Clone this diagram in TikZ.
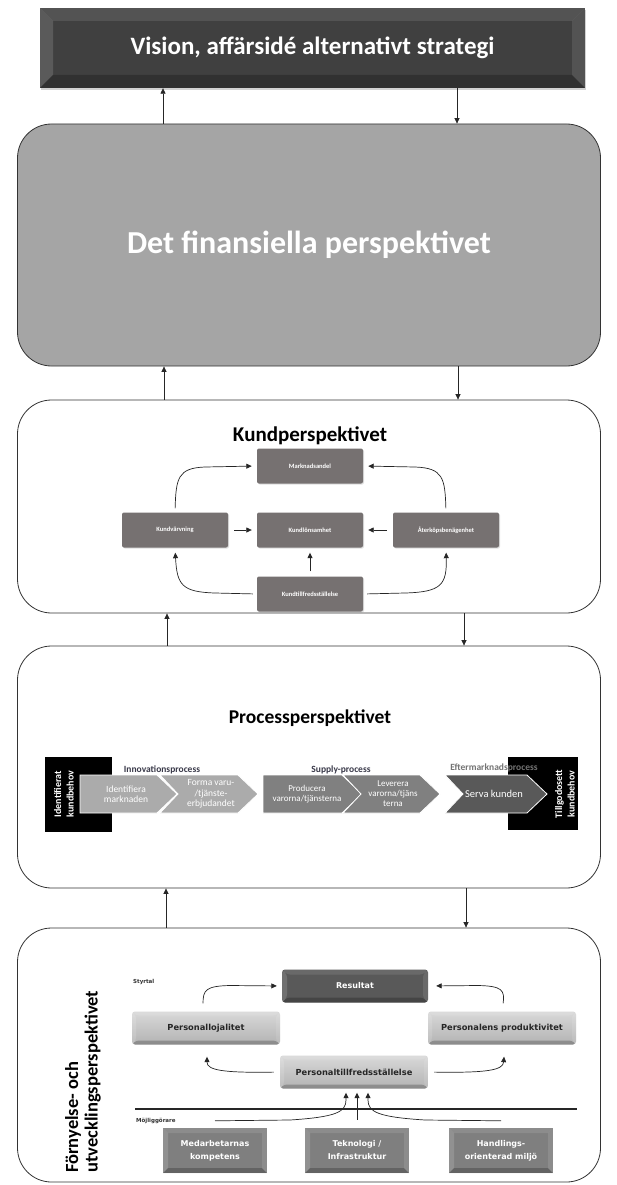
\documentclass[tikz,border=0pt]{standalone}
\usepackage{fontspec}
\setmainfont{Carlito}
\newfontfamily\widefont{DejaVu Sans}
\usetikzlibrary{arrows.meta,calc,shadows}
\definecolor{visgray}{HTML}{404040}
\definecolor{fingray}{HTML}{A5A5A5}
\definecolor{kgray}{HTML}{767171}
\definecolor{chevA}{HTML}{ABABAB}
\definecolor{chevB}{HTML}{808080}
\definecolor{chevC}{HTML}{595959}
\definecolor{resgray}{HTML}{595959}
\definecolor{enagray}{HTML}{7F7F7F}
\definecolor{lblgray}{HTML}{3A3A4A}
\tikzset{
 bevel/.style={path picture={
  \fill[white,opacity=.10] (path picture bounding box.north west) -- (path picture bounding box.north east) -- ([shift={(-#1,-#1)}]path picture bounding box.north east) -- ([shift={(#1,-#1)}]path picture bounding box.north west) -- cycle;
  \fill[white,opacity=.14] (path picture bounding box.north west) -- ([shift={(#1,-#1)}]path picture bounding box.north west) -- ([shift={(#1,#1)}]path picture bounding box.south west) -- (path picture bounding box.south west) -- cycle;
  \fill[black,opacity=.22] (path picture bounding box.south west) -- (path picture bounding box.south east) -- ([shift={(-#1,#1)}]path picture bounding box.south east) -- ([shift={(#1,#1)}]path picture bounding box.south west) -- cycle;
  \fill[white,opacity=.10] (path picture bounding box.north east) -- (path picture bounding box.south east) -- ([shift={(-#1,#1)}]path picture bounding box.south east) -- ([shift={(-#1,-#1)}]path picture bounding box.north east) -- cycle;
 }},
 persp/.style={draw=black!80, line width=0.8pt, rounded corners=34pt, minimum width=583pt, inner sep=0pt},
 arr/.style={-{Triangle[length=5.5pt,width=5pt]}, line width=0.7pt, black!85},
 knode/.style={fill=kgray, rounded corners=2pt, minimum width=106pt, minimum height=35pt, text=white, font=\bfseries\fontsize{6.5}{8}\selectfont, inner sep=1pt, drop shadow={opacity=.25, shadow xshift=1pt, shadow yshift=-1pt}},
 chevtext/.style={text=white, align=center, font=\fontsize{9.5}{10.5}\selectfont, inner sep=0pt},
 plabel/.style={text=lblgray, font=\bfseries\fontsize{9.5}{10}\selectfont, anchor=south, inner sep=0pt},
 lightbox/.style={top color=black!15, bottom color=black!30, bevel=4pt, rounded corners=3pt, minimum width=148pt, minimum height=33pt, inner sep=0pt, font=\widefont\bfseries\fontsize{8.3}{10}\selectfont, text=black!85},
 enabler/.style={fill=enagray, bevel=5pt, minimum width=104pt, minimum height=45pt, inner sep=0pt, align=center, text=white, font=\widefont\bfseries\fontsize{8}{13}\selectfont},
 tinylabel/.style={font=\widefont\bfseries\fontsize{5.5}{6}\selectfont, text=black!80, anchor=west, inner sep=0pt}
}
\begin{document}
\begin{tikzpicture}[x=1pt,y=-1pt]
\useasboundingbox (0,0) rectangle (616,1185);
\fill[white] (0,0) rectangle (616,1185);

% ---------- top box ----------
\node[fill=visgray, bevel=13pt, minimum width=545pt, minimum height=80pt, inner sep=0pt, text=white, font=\bfseries\fontsize{25}{28}\selectfont, drop shadow={opacity=.35, shadow xshift=1pt, shadow yshift=-2pt}] (vision) at (312.5,48) {Vision, affärsidé alternativt strategi};

% ---------- perspective boxes ----------
\node[persp, fill=fingray, minimum height=242pt, text=white, font=\bfseries\fontsize{32}{36}\selectfont] (fin) at (309,245) {Det finansiella perspektivet};
\node[persp, fill=white, minimum height=213pt] (kund) at (309,506.5) {};
\node[persp, fill=white, minimum height=242pt] (proc) at (309,767) {};
\node[persp, fill=white, minimum height=254pt] (forn) at (309,1055) {};

% ---------- connectors between boxes ----------
\coordinate (xa) at (163,0); \coordinate (xb) at (457,0);
\coordinate (xc) at (164,0); \coordinate (xd) at (458,0);
\coordinate (xe) at (167,0); \coordinate (xf) at (464,0);
\coordinate (xg) at (166,0); \coordinate (xh) at (466,0);
\draw[arr] (fin.north -| xa) -- (vision.south -| xa);
\draw[arr] (vision.south -| xb) -- (fin.north -| xb);
\draw[arr] (kund.north -| xc) -- (fin.south -| xc);
\draw[arr] (fin.south -| xd) -- (kund.north -| xd);
\draw[arr] (proc.north -| xe) -- (kund.south -| xe);
\draw[arr] (kund.south -| xf) -- (proc.north -| xf);
\draw[arr] (forn.north -| xg) -- (proc.south -| xg);
\draw[arr] (proc.south -| xh) -- (forn.north -| xh);

% ---------- Kundperspektivet ----------
\node[font=\bfseries\fontsize{21}{24}\selectfont] (ktitle) at (310,436) {Kundperspektivet};
\node[knode] (ma) at (310,466) {Marknadsandel};
\node[knode] (kv) at (175,530) {Kundvärvning};
\node[knode] (kl) at (310,530) {Kundlönsamhet};
\node[knode] (ak) at (446,530) {Återköpsbenägenhet};
\node[knode] (kt) at (310,594) {Kundtillfredsställelse};
\draw[arr, shorten <=4pt, shorten >=5pt] (kv.north) .. controls (176,478) and (178,468) .. (205,467) -- (ma.west);
\draw[arr, shorten <=4pt, shorten >=5pt] (ak.north) .. controls (445,478) and (443,468) .. (415,467) -- (ma.east);
\draw[arr, shorten <=6pt, shorten >=5pt] (kv.east) -- (kl.west);
\draw[arr, shorten <=6pt, shorten >=5pt] (ak.west) -- (kl.east);
\draw[arr, shorten <=5pt, shorten >=5pt] (kt.north) -- (kl.south);
\draw[arr, shorten <=4pt, shorten >=5pt] (kt.west) -- (215,593) .. controls (182,592) and (177,585) .. (kv.south);
\draw[arr, shorten <=4pt, shorten >=5pt] (kt.east) -- (405,593) .. controls (441,592) and (447,585) .. (ak.south);

% ---------- Processperspektivet ----------
\node[font=\bfseries\fontsize{19.5}{22}\selectfont] (ptitle) at (310,718) {Processperspektivet};
\node[fill=black, minimum width=67pt, minimum height=75pt, inner sep=0pt] (idbox) at (78.5,794.5) {};
\node[rotate=90, text=white, align=center, font=\bfseries\fontsize{10}{12.5}\selectfont, inner sep=0pt] (idtext) at (64,794) {Identifierat\\kundbehov};
\node[fill=black, minimum width=70pt, minimum height=73pt, inner sep=0pt] (tgbox) at (543,793.5) {};
\path[fill=chevA, draw=white, line width=0.8pt] (80,775) -- (157,775) -- (177,794) -- (157,813) -- (80,813) -- cycle;
\path[fill=chevA, draw=white, line width=0.8pt] (160,775) -- (238,775) -- (258,794) -- (238,813) -- (160,813) -- (178,794) -- cycle;
\path[fill=chevB, draw=white, line width=0.8pt] (263,775) -- (342,775) -- (362,794) -- (342,813) -- (263,813) -- cycle;
\path[fill=chevB, draw=white, line width=0.8pt] (343,775) -- (420,775) -- (440,794) -- (420,813) -- (343,813) -- (361,794) -- cycle;
\path[fill=chevC, draw=white, line width=0.8pt] (445,775) -- (527,775) -- (547,794) -- (527,813) -- (445,813) -- (463,794) -- cycle;
\node[rotate=90, text=white, align=center, font=\bfseries\fontsize{10}{12.5}\selectfont, inner sep=0pt] (tgtext) at (565,794) {Tillgodosett\\kundbehov};
\node[chevtext] (c1) at (126,794) {Identifiera\\marknaden};
\node[chevtext] (c2) at (211,794) {Forma varu-\\/tjänste-\\erbjudandet};
\node[chevtext, font=\fontsize{9}{10}\selectfont] (c3) at (307,794) {Producera\\varorna/tjänsterna};
\node[chevtext, font=\fontsize{9}{10}\selectfont] (c4) at (393,794) {Leverera\\varorna/tjäns\\terna};
\node[chevtext, font=\fontsize{10.5}{12}\selectfont] (c5) at (494,794) {Serva kunden};
\node[plabel] (l1) at (162,774) {Innovationsprocess};
\node[plabel] (l2) at (341,774) {Supply-process};
\node[plabel, text=black!55] (l3) at (494,772) {Eftermarknadsprocess};

% ---------- Förnyelse- och utvecklingsperspektivet ----------
\node[rotate=90, anchor=west, align=left, font=\bfseries\fontsize{18.5}{19.5}\selectfont, inner sep=0pt] (ftitle) at (83,1173) {Förnyelse- och\\utvecklingsperspektivet};
\node[tinylabel] (styr) at (133,982) {Styrtal};
\node[fill=resgray, bevel=5pt, rounded corners=3pt, minimum width=146pt, minimum height=33pt, inner sep=0pt, text=white, font=\widefont\bfseries\fontsize{8}{10}\selectfont] (res) at (355,986) {Resultat};
\node[lightbox] (pl) at (206,1028) {Personallojalitet};
\node[lightbox] (pp) at (502,1028) {Personalens produktivitet};
\node[lightbox] (pt) at (354,1072) {Personaltillfredsställelse};
\coordinate (lineL) at (135,1109); \coordinate (lineR) at (577,1109);
\draw[line width=1.3pt, black!85] (lineL) -- (lineR);
\node[tinylabel] (moj) at (136,1121) {Möjliggörare};
\node[enabler] (md) at (215,1150.5) {Medarbetarnas\\kompetens};
\node[enabler] (tk) at (357,1150.5) {Teknologi /\\Infrastruktur};
\node[enabler] (hm) at (501,1150.5) {Handlings-\\orienterad miljö};

\draw[arr, shorten <=8pt, shorten >=5pt] ([xshift=-3pt]pl.north) .. controls (203,990) and (206,986) .. (230,985.5) -- (res.west);
\draw[arr, shorten <=8pt, shorten >=8pt] (pp.north) .. controls (505,990) and (502,986) .. (478,985.5) -- (res.east);
\draw[arr, shorten <=6pt, shorten >=12pt] (pt.west) .. controls (222,1073) and (207,1070) .. ([xshift=1pt]pl.south);
\draw[arr, shorten <=6pt, shorten >=12pt] (pt.east) .. controls (488,1073) and (503,1070) .. ([xshift=3pt]pp.south);
\draw[arr, shorten >=4pt] ([yshift=7pt]md.north) -- (290,1120) .. controls (336,1117) and (346,1112) .. (346,1100) -- ([xshift=-8pt]pt.south);
\draw[arr, shorten <=8pt, shorten >=4pt] (tk.north) -- (tk.north |- pt.south);
\draw[arr, shorten >=4pt] ([yshift=7pt]hm.north) -- (425,1120) .. controls (378,1117) and (368,1112) .. (368,1100) -- ([xshift=14pt]pt.south);
\end{tikzpicture}
\end{document}
